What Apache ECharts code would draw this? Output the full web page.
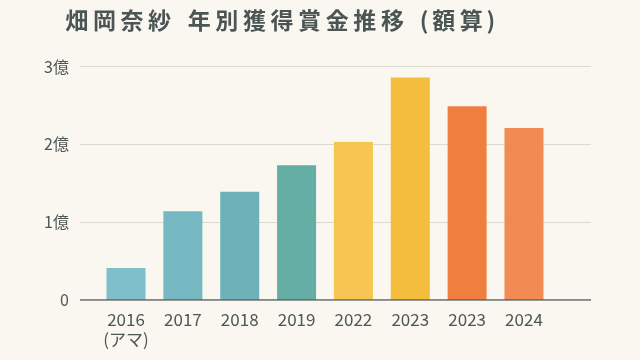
<!DOCTYPE html>
<html><head><meta charset="utf-8">
<script src="https://cdn.jsdelivr.net/npm/echarts@6/dist/echarts.min.js"></script>
<style>html,body{margin:0;padding:0;background:#faf7f1;}#c{width:640px;height:360px;}</style>
</head><body><div id="c"></div>
<script>
const titleText = '畑岡奈紗 年別獲得賞金推移 (額算)';
const categories = ['2016\n(アマ)', '2017', '2018', '2019', '2022', '2023', '2023', '2024'];
const values = [0.41, 1.14, 1.39, 1.73, 2.03, 2.86, 2.49, 2.21];
const barColors = ['#7ebfc9', '#76b8c2', '#6db2b9', '#64aea6', '#f6c552', '#f4bd3c', '#ef7f3e', '#f08b53'];
const yTicks = [0, 1, 2, 3];

// letter-spaced title built from rich-text tokens
const titleRich = titleText.split('').map(ch => {
  if (ch === ' ') return '{sp| }';
  if (ch === '(' || ch === ')') return '{p|' + ch + '}';
  return '{c|' + ch + '}';
}).join('');
const tFont = {fontFamily: 'Noto Sans CJK JP', fontWeight: 'bold', color: '#4b5654', fontSize: 23};

const chart = echarts.init(document.getElementById('c'), null, {renderer: 'canvas'});
chart.setOption({
  backgroundColor: '#faf7f1',
  animation: false,
  title: {
    text: titleRich, left: 58, top: 4,
    textStyle: Object.assign({}, tFont, {
      rich: {
        c: Object.assign({}, tFont, {padding: [0, 2.3]}),
        p: Object.assign({}, tFont, {padding: [0, 1.5]}),
        sp: Object.assign({}, tFont, {width: 12})
      }
    })
  },
  grid: [
    {left: 80, right: 49, top: 66.5, bottom: 60},
    {left: 97.6, right: 87.6, top: 66.5, bottom: 60}
  ],
  xAxis: [
    {gridIndex: 0, type: 'value', min: 0, max: 1, show: true,
     axisLine: {show: false}, axisTick: {show: false}, axisLabel: {show: false}, splitLine: {show: false}},
    {gridIndex: 1, type: 'category', data: categories,
     axisLine: {show: false}, axisTick: {show: false},
     axisLabel: {interval: 0, color: '#4d5755', fontSize: 17, fontFamily: 'Noto Sans CJK JP', margin: 10, lineHeight: 20}}
  ],
  yAxis: [
    {gridIndex: 0, type: 'value', min: 0, max: 3, interval: 1,
     axisLine: {show: false}, axisTick: {show: false},
     axisLabel: {color: '#4d5755', fontSize: 16, fontFamily: 'Noto Sans CJK JP', margin: 11,
       formatter: v => yTicks.includes(v) ? (v === 0 ? '0' : v + '億') : ''},
     splitLine: {lineStyle: {color: '#dcd9d0', width: 1}}},
    {gridIndex: 1, type: 'value', min: 0, max: 3, interval: 1, show: false}
  ],
  series: [
    {type: 'bar', xAxisIndex: 1, yAxisIndex: 1, barWidth: 39, z: 2,
     data: values.map((v, i) => ({value: v, itemStyle: {color: barColors[i]}}))},
    {type: 'line', xAxisIndex: 0, yAxisIndex: 0, data: [[0, 0], [1, 0]], symbol: 'none', z: 5,
     lineStyle: {color: '#5c6567', width: 1.5}, silent: true}
  ]
});
</script></body></html>
